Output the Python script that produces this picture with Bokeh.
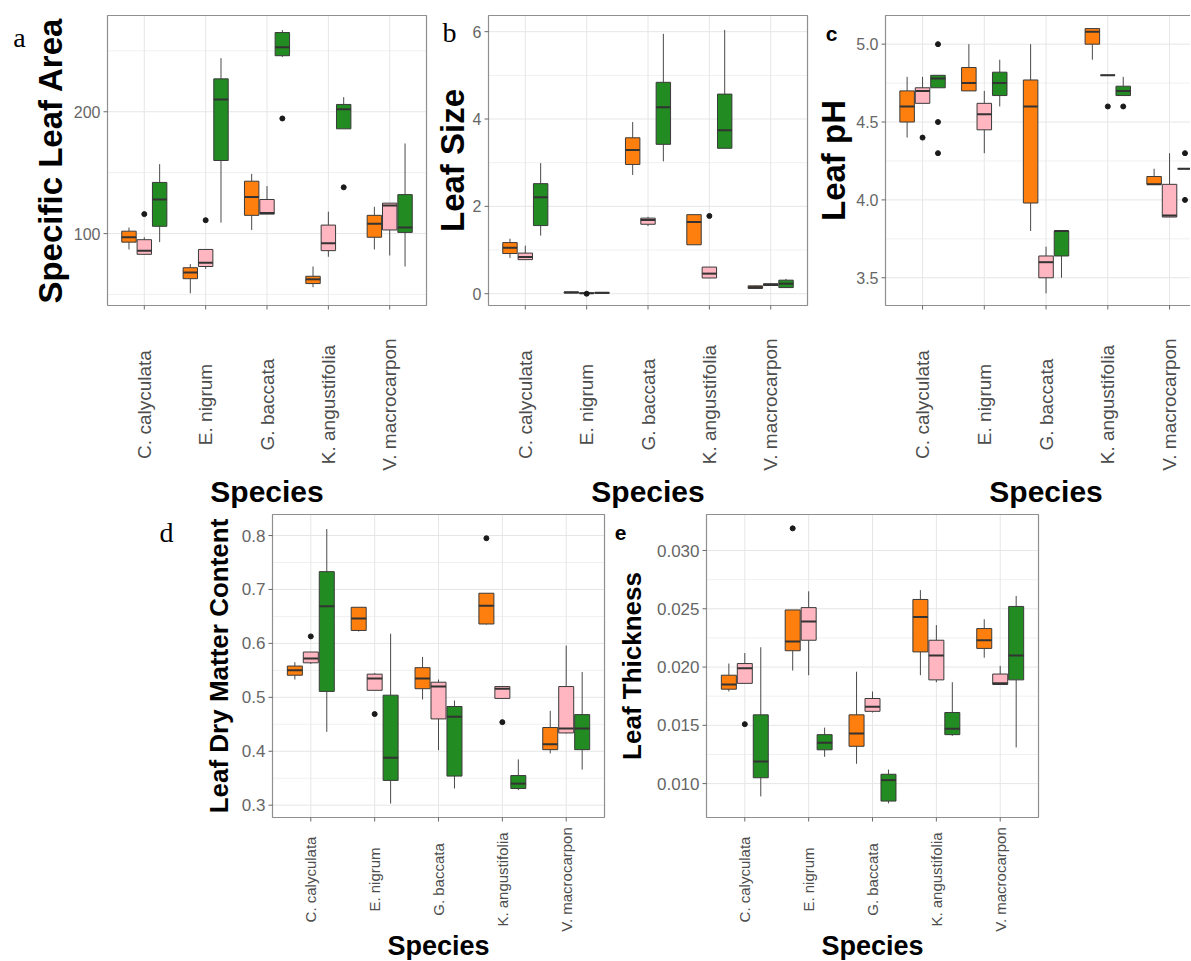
import math
from bokeh.plotting import figure
from bokeh.models import Range1d, Spacer
from bokeh.layouts import column, row
from bokeh.core.properties import value
from bokeh.embed import file_html
from bokeh.resources import INLINE

SPECIES = ["C. calyculata", "E. nigrum", "G. baccata", "K. angustifolia", "V. macrocarpon"]
GROUP_COLORS = ["#FF7F0E", "#FFB6C1", "#228B22"]

# each entry: (lower whisker, q1, median, q3, upper whisker) per species
SLA_G1 = [(87, 93, 97, 102, 105), (51, 63, 68, 72, 75), (103, 115, 130, 143, 149), (56, 59, 62.5, 65, 73), (87, 97, 108, 115, 122)]
SLA_G2 = [(83, 83, 86, 95, 97), (71, 73, 76, 87, 87), (116, 116, 117, 128, 139), (81, 86, 92, 107, 118), (82, 103, 123, 125, 125)]
SLA_G3 = [(93, 106, 128, 142, 157), (109, 160, 210, 227, 244), (245, 246, 253, 265, 267), (186, 186, 202, 206, 212), (73, 101, 105, 132, 174)]
SLA_OUT = [(0, 1, 116), (1, 1, 111), (2, 2, 194.5), (3, 2, 138)]
SLA_TICKS = [100, 200]
SLA_MINOR = [50, 150, 250]

SIZE_G1 = [(0.82, 0.92, 1.05, 1.17, 1.26), (0.01, 0.015, 0.03, 0.04, 0.05), (2.72, 2.96, 3.29, 3.57, 3.93), (1.12, 1.12, 1.64, 1.81, 1.81), (0.11, 0.12, 0.15, 0.18, 0.19)]
SIZE_G2 = [(0.78, 0.78, 0.84, 0.93, 1.1), (0.0, 0.005, 0.01, 0.02, 0.03), (1.55, 1.59, 1.69, 1.73, 1.76), (0.36, 0.36, 0.46, 0.61, 0.61), (0.18, 0.19, 0.2, 0.23, 0.24)]
SIZE_G3 = [(1.33, 1.56, 2.21, 2.52, 2.99), (0.0, 0.01, 0.02, 0.03, 0.04), (3.03, 3.42, 4.27, 4.84, 5.95), (3.33, 3.33, 3.74, 4.57, 6.04), (0.14, 0.14, 0.23, 0.31, 0.34)]
SIZE_OUT = [(3, 1, 1.78), (1, 1, 0.0)]
SIZE_TICKS = [0, 2, 4, 6]
SIZE_MINOR = [1, 3, 5]

PH_G1 = [(4.40, 4.50, 4.60, 4.70, 4.79), (4.70, 4.70, 4.75, 4.85, 5.0), (3.80, 3.98, 4.60, 4.77, 5.0), (4.90, 5.0, 5.08, 5.10, 5.10), (4.10, 4.10, 4.10, 4.15, 4.20)]
PH_G2 = [(4.62, 4.62, 4.70, 4.72, 4.79), (4.30, 4.45, 4.55, 4.62, 4.70), (3.40, 3.50, 3.60, 3.64, 3.70), (4.80, 4.80, 4.80, 4.80, 4.80), (3.89, 3.89, 3.90, 4.10, 4.30)]
PH_G3 = [(4.72, 4.72, 4.78, 4.80, 4.80), (4.60, 4.67, 4.75, 4.82, 4.90), (3.50, 3.64, 3.80, 3.80, 3.80), (4.67, 4.67, 4.70, 4.73, 4.79), (4.20, 4.20, 4.20, 4.20, 4.20)]
PH_OUT = [(0, 1, 4.40), (0, 2, 5.0), (0, 2, 4.5), (0, 2, 4.3), (3, 1, 4.6), (3, 2, 4.6), (4, 2, 4.3), (4, 2, 4.0)]
PH_TICKS = [3.5, 4.0, 4.5, 5.0]
PH_MINOR = [3.75, 4.25, 4.75]

LDMC_G1 = [(0.533, 0.541, 0.55, 0.558, 0.565), (0.622, 0.624, 0.646, 0.667, 0.667), (0.496, 0.516, 0.535, 0.555, 0.575), (0.635, 0.636, 0.670, 0.693, 0.693), (0.396, 0.403, 0.413, 0.444, 0.475)]
LDMC_G2 = [(0.562, 0.564, 0.572, 0.584, 0.584), (0.513, 0.513, 0.535, 0.543, 0.545), (0.402, 0.46, 0.52, 0.528, 0.533), (0.498, 0.498, 0.516, 0.52, 0.52), (0.433, 0.434, 0.442, 0.52, 0.596)]
LDMC_G3 = [(0.436, 0.511, 0.669, 0.733, 0.812), (0.303, 0.346, 0.388, 0.504, 0.618), (0.331, 0.354, 0.464, 0.483, 0.494), (0.328, 0.331, 0.34, 0.355, 0.385), (0.366, 0.403, 0.442, 0.468, 0.547)]
LDMC_OUT = [(0, 1, 0.613), (1, 1, 0.469), (3, 0, 0.795), (3, 1, 0.454)]
LDMC_TICKS = [0.3, 0.4, 0.5, 0.6, 0.7, 0.8]
LDMC_MINOR = [0.35, 0.45, 0.55, 0.65, 0.75]

THK_G1 = [(0.0179, 0.0181, 0.0185, 0.0193, 0.0203), (0.0197, 0.0214, 0.0222, 0.0249, 0.0249), (0.0117, 0.0132, 0.0143, 0.0159, 0.0196), (0.0193, 0.0213, 0.0243, 0.0258, 0.0266), (0.0208, 0.0216, 0.0223, 0.0233, 0.0241)]
THK_G2 = [(0.0186, 0.0186, 0.0199, 0.0203, 0.0212), (0.0193, 0.0223, 0.0239, 0.0251, 0.0265), (0.0161, 0.0162, 0.0166, 0.0173, 0.0179), (0.0187, 0.0189, 0.0210, 0.0223, 0.0236), (0.0185, 0.0185, 0.0186, 0.0194, 0.0201)]
THK_G3 = [(0.0089, 0.0105, 0.0119, 0.0159, 0.0217), (0.0123, 0.0129, 0.0135, 0.0142, 0.0148), (0.0083, 0.0085, 0.0103, 0.0108, 0.0112), (0.0141, 0.0142, 0.0147, 0.0161, 0.0187), (0.0131, 0.0189, 0.0210, 0.0252, 0.0261)]
THK_OUT = [(0, 1, 0.0151), (1, 0, 0.0319)]
THK_TICKS = [0.010, 0.015, 0.020, 0.025, 0.030]
THK_MINOR = [0.0125, 0.0175, 0.0225, 0.0275]

OFFSETS = [-0.25, 0.0, 0.25]
BW = 0.235
X0, X1 = 0.4, 5.6
FONT = "Liberation Sans"


def make_panel(groups, outliers, yr, yticks, yminor, decimals, geom, ytitle, title_off, title_size,
               letter, letter_pos, letter_font, xlab_off, xlab_size, species_off, species_size, ytick_size):
    # geom: canvas width, canvas height, frame left, frame top, frame height, pixels per category
    W, H, fl, ft, fh, ppx = geom
    y0, y1 = yr
    ppy = fh / (y1 - y0)
    cx0 = X0 - fl / ppx
    cx1 = X0 + (W - fl) / ppx
    cy1 = y1 + ft / ppy
    cy0 = y1 - (H - ft) / ppy

    p = figure(width=W, height=H, frame_width=W, frame_height=H,
               x_range=Range1d(cx0, cx1), y_range=Range1d(cy0, cy1),
               output_backend="svg", toolbar_location=None,
               min_border_left=0, min_border_right=0, min_border_top=0, min_border_bottom=0)
    p.axis.visible = False
    p.grid.visible = False
    p.outline_line_color = None
    p.background_fill_color = "white"
    p.border_fill_color = "white"

    cats = [i + 1 for i in range(len(SPECIES))]
    tx = 1.0 / ppx
    ty = 1.0 / ppy

    # grid
    p.segment(x0=X0, y0=yminor, x1=X1, y1=yminor, line_color="#f0f0f0", line_width=1)
    p.segment(x0=X0, y0=yticks, x1=X1, y1=yticks, line_color="#e6e6e6", line_width=1)
    p.segment(x0=cats, y0=y0, x1=cats, y1=y1, line_color="#e6e6e6", line_width=1)

    # boxes
    for g, data in enumerate(groups):
        xs = [i + 1 + OFFSETS[g] for i in range(len(data))]
        lo = [d[0] for d in data]
        q1 = [d[1] for d in data]
        med = [d[2] for d in data]
        q3 = [d[3] for d in data]
        hi = [d[4] for d in data]
        p.segment(x0=xs, y0=q3, x1=xs, y1=hi, line_color="#4a4a4a", line_width=1)
        p.segment(x0=xs, y0=q1, x1=xs, y1=lo, line_color="#4a4a4a", line_width=1)
        p.vbar(x=xs, width=BW, bottom=q1, top=q3, fill_color=GROUP_COLORS[g],
               line_color="#3a3a3a", line_width=1)
        p.segment(x0=[x - BW / 2 for x in xs], y0=med, x1=[x + BW / 2 for x in xs], y1=med,
                  line_color="#333333", line_width=2)

    ox = [o[0] + 1 + OFFSETS[o[1]] for o in outliers]
    oy = [o[2] for o in outliers]
    p.scatter(x=ox, y=oy, size=5, color="#1a1a1a")

    # panel border
    p.quad(left=[X0], right=[X1], bottom=[y0], top=[y1], fill_color=None,
           line_color="#8f8f8f", line_width=1.2)

    # ticks
    p.segment(x0=cats, y0=y0, x1=cats, y1=y0 - 4 * ty, line_color="#6a6a6a", line_width=1)
    p.segment(x0=X0 - 4 * tx, y0=yticks, x1=X0, y1=yticks, line_color="#6a6a6a", line_width=1)

    # y tick labels
    fmt = "{:.%df}" % decimals
    p.text(x=X0 - 7 * tx, y=yticks, text=[fmt.format(t) for t in yticks],
           text_align="right", text_baseline="middle", text_font=value(FONT),
           text_font_size=value(ytick_size), text_color="#666666")

    # x tick labels (rotated, centred)
    p.text(x=cats, y=y0 - xlab_off * ty, text=SPECIES, angle=math.pi / 2,
           text_align="center", text_baseline="middle", text_font=value(FONT),
           text_font_size=value(xlab_size), text_color="#4d4d4d")

    # axis titles
    p.text(x=[3], y=[y0 - species_off * ty], text=["Species"], text_align="center",
           text_baseline="middle", text_font=value(FONT), text_font_style="bold",
           text_font_size=value(species_size), text_color="black")
    p.text(x=[X0 - title_off * tx], y=[(y0 + y1) / 2], text=[ytitle], angle=math.pi / 2,
           text_align="center", text_baseline="middle", text_font=value(FONT),
           text_font_style="bold", text_font_size=value(title_size), text_color="black")

    # panel letter
    lx, ly = letter_pos
    lf, lsize, lstyle = letter_font
    p.text(x=[X0 - lx * tx], y=[y1 - ly * ty], text=[letter], text_align="center",
           text_baseline="middle", text_font=value(lf), text_font_size=value(lsize),
           text_font_style=lstyle, text_color="black")
    return p


SERIF = ("Liberation Serif", "28px", "normal")
BOLDS = ("Liberation Sans", "21px", "bold")

pa = make_panel([SLA_G1, SLA_G2, SLA_G3], SLA_OUT, (41, 279), SLA_TICKS, SLA_MINOR, 0,
                (430, 512, 107, 15, 290, 61.35), "Specific Leaf Area", 57, "33px", "a", (88, 22), SERIF,
                99, "19px", 186, "30px", "16px")
pb = make_panel([SIZE_G1, SIZE_G2, SIZE_G3], SIZE_OUT, (-0.27, 6.37), SIZE_TICKS, SIZE_MINOR, 0,
                (380, 512, 58, 15, 290, 61.35), "Leaf Size", 36, "33px", "b", (39, 17), SERIF,
                99, "19px", 186, "30px", "16px")
pc = make_panel([PH_G1, PH_G2, PH_G3], PH_OUT, (3.322, 5.184), PH_TICKS, PH_MINOR, 1,
                (380, 512, 75, 15, 290, 61.75), "Leaf pH", 52, "33px", "c", (54, 18), BOLDS,
                99, "19px", 186, "30px", "16px")
pd = make_panel([LDMC_G1, LDMC_G2, LDMC_G3], LDMC_OUT, (0.2772, 0.839), LDMC_TICKS, LDMC_MINOR, 1,
                (462, 448, 122, 2, 303, 63.85), "Leaf Dry Matter Content", 54, "26px", "d", (106, 18), SERIF,
                62, "15px", 128, "27px", "17px")
pe = make_panel([THK_G1, THK_G2, THK_G3], THK_OUT, (0.00709, 0.03309), THK_TICKS, THK_MINOR, 3,
                (436, 448, 94, 2, 303, 63.85), "Leaf Thickness", 75, "26px", "e", (86, 18), BOLDS,
                62, "15px", 128, "27px", "17px")

layout = column(row(pa, pb, pc), row(Spacer(width=150, height=448), pd, pe))

open("out.html", "w").write(file_html(layout, INLINE))
